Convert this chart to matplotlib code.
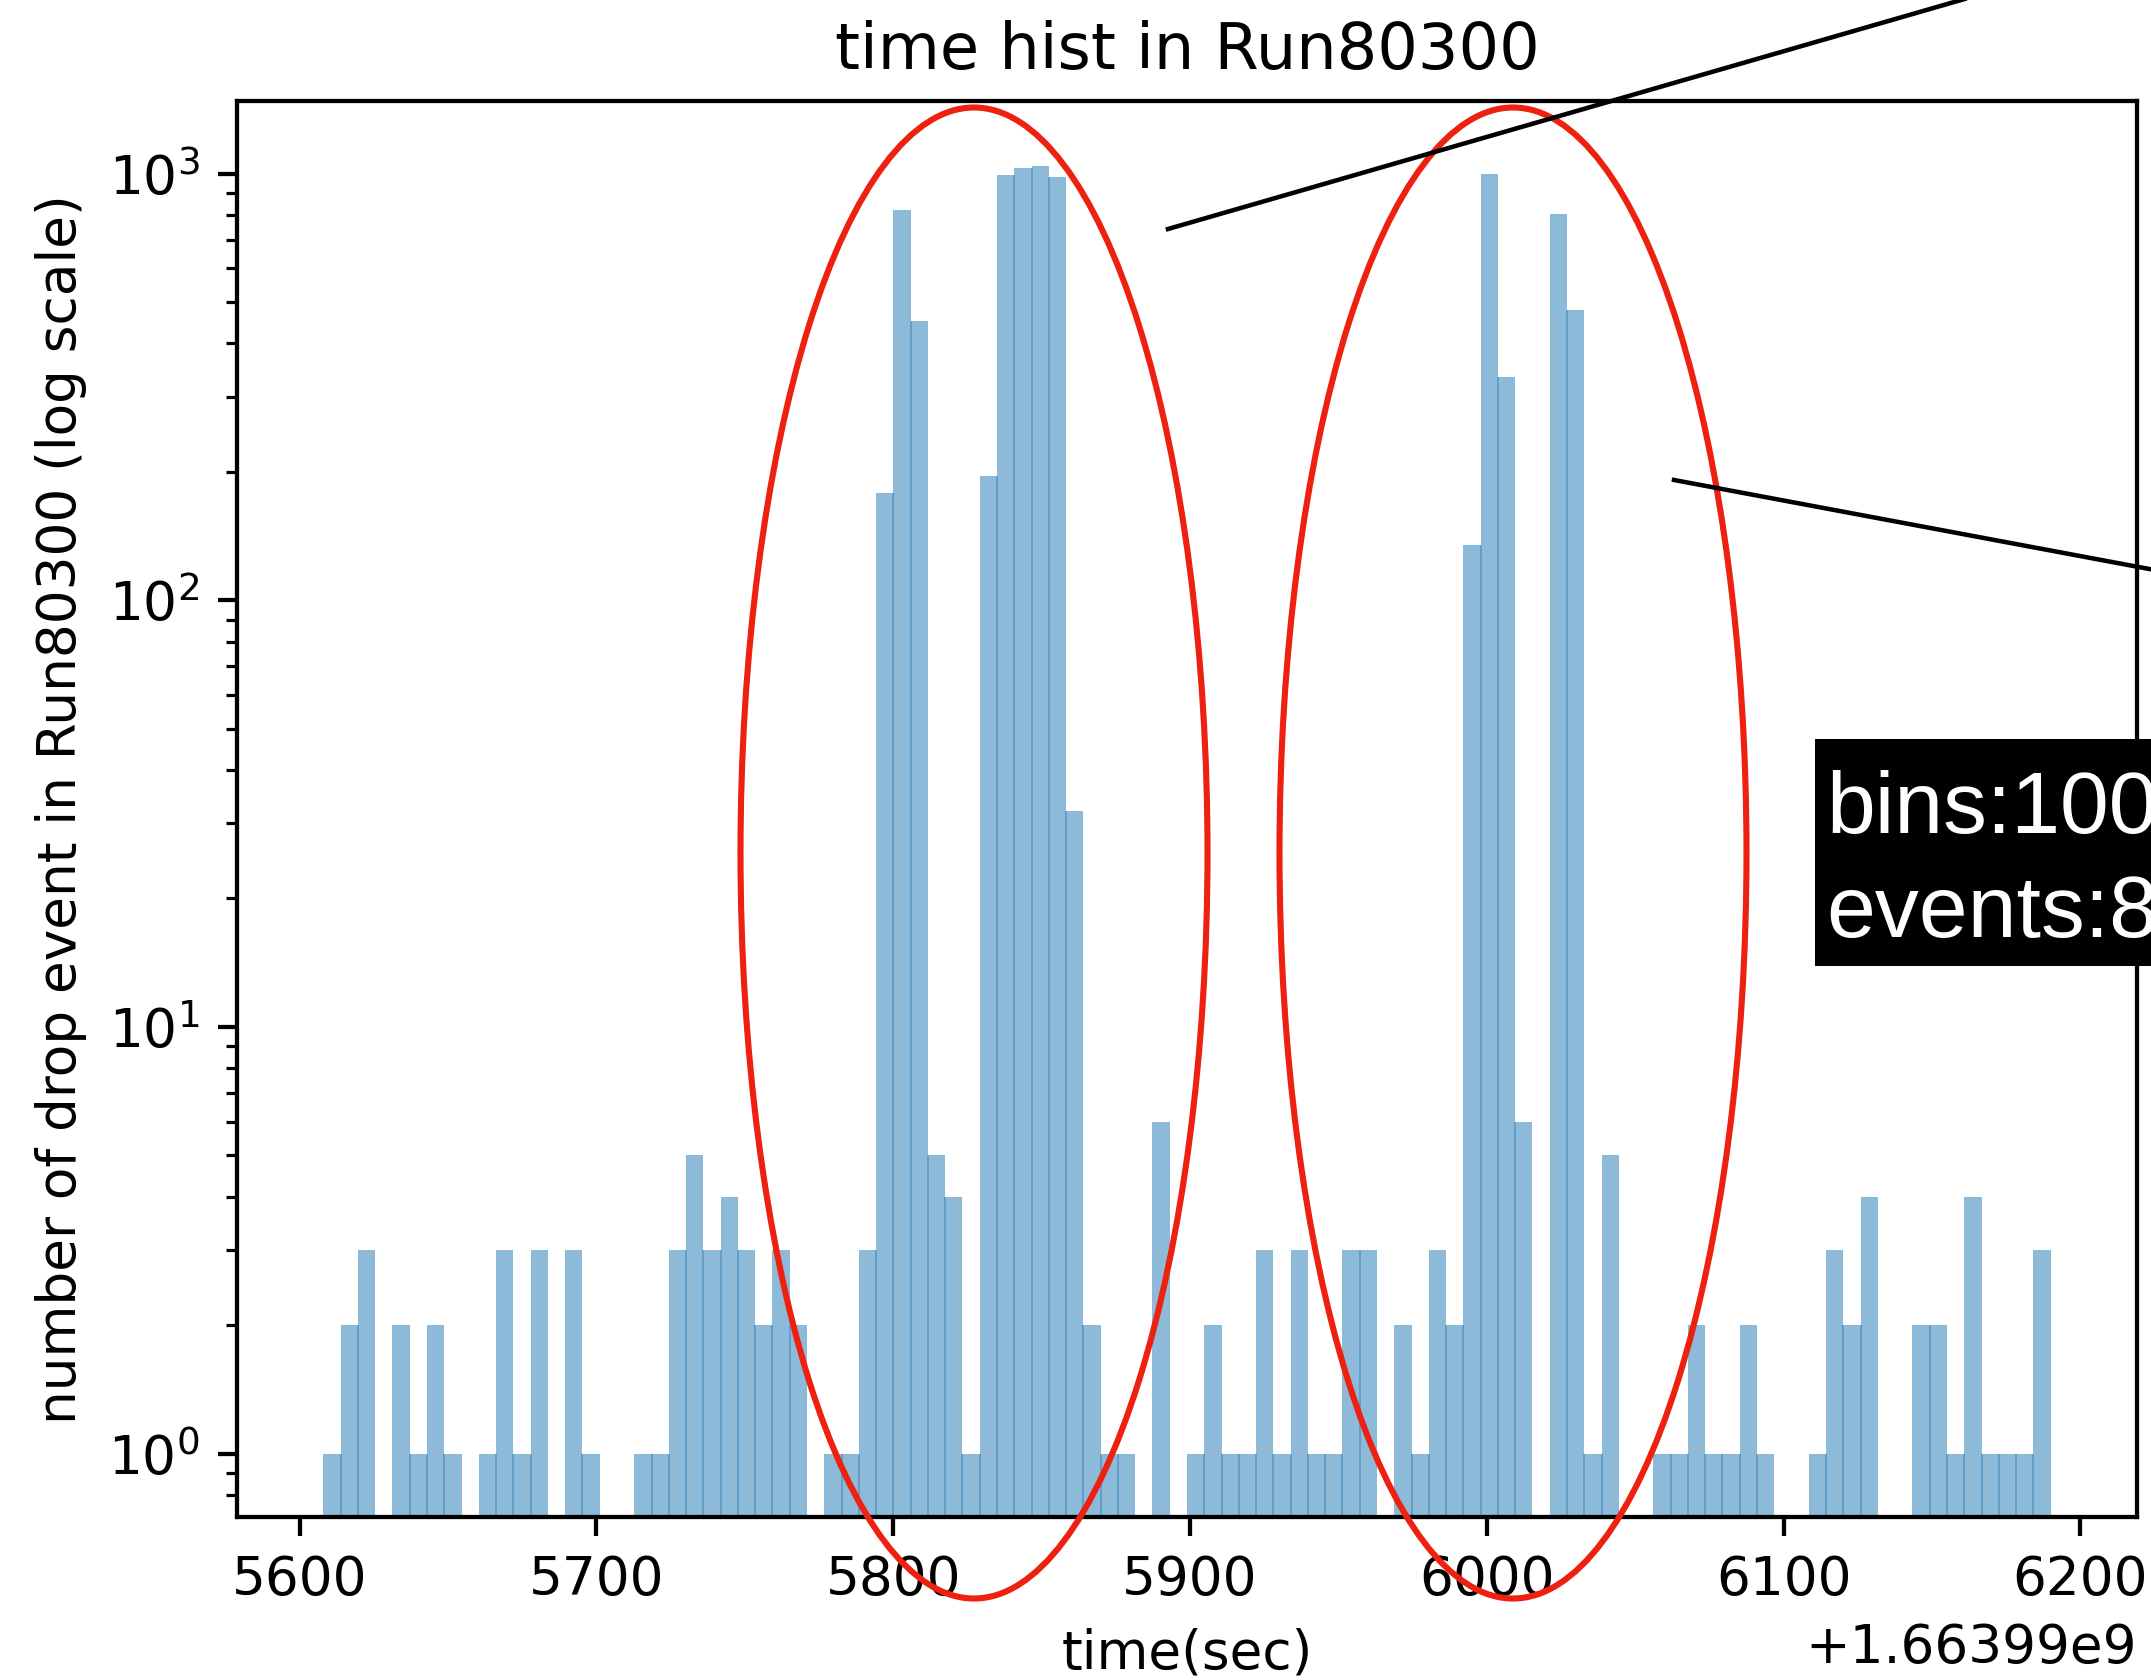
"""
Histogram of the drop-event times in Run80300 (100 bins, log scale),
with the red ellipses, black pointer lines and the black label box
that were drawn on top of it.
"""

import numpy as np
import matplotlib.pyplot as plt
from matplotlib.patches import Ellipse, Rectangle
from matplotlib.lines import Line2D

# Size of the picture in pixels and its resolution
W, H = 2151, 1680
DPI = 383

# Time axis: the bins start here (seconds, unix time) and each is BIN_WIDTH wide
T_OFFSET = 1.66399e9
T_FIRST = 5608.0
BIN_WIDTH = 5.82

# Number of drop events in each of the 100 bins, read left to right
counts = [1, 2, 3, 0, 2, 1, 2, 1, 0, 1,
          3, 1, 3, 0, 3, 1, 0, 0, 1, 1,
          3, 5, 3, 4, 3, 2, 3, 2, 0, 1,
          1, 3, 178, 824, 452, 5, 4, 1, 196, 995,
          1033, 1044, 984, 32, 2, 1, 1, 0, 6, 0,
          1, 2, 1, 1, 3, 1, 3, 1, 1, 3,
          3, 0, 2, 1, 3, 2, 135, 1000, 333, 6,
          0, 806, 480, 1, 5, 0, 0, 1, 1, 2,
          1, 1, 2, 1, 0, 0, 1, 3, 2, 4,
          0, 0, 2, 2, 1, 4, 1, 1, 1, 3]

n_bins = len(counts)
bin_edges = T_OFFSET + T_FIRST + BIN_WIDTH * np.arange(n_bins + 1)

RED = '#EE2010'


def fx(x):
    """pixel column -> figure fraction"""
    return x / W


def fy(y):
    """pixel row (from the top) -> figure fraction"""
    return 1 - y / H


fig = plt.figure(figsize=(W / DPI, H / DPI), dpi=DPI)
ax = fig.add_axes([fx(237), fy(1517), (2137 - 237) / W, (1517 - 101) / H])

ax.hist(bin_edges[:-1], bins=bin_edges, weights=counts, log=True, alpha=0.5)

# In the original the semi-transparent bars overlap a little, so a thin
# darker seam shows where two bars touch. Redraw those seams.
c = np.array(counts)
touching = (c[:-1] > 0) & (c[1:] > 0)
seam_x = bin_edges[1:-1][touching]
seam_top = np.minimum(c[:-1], c[1:])[touching]
ax.vlines(seam_x, 0.5, seam_top, color='#1f77b4', alpha=0.5, linewidth=0.3)

ax.set_ylim(0.71, 1480)

ax.set_title('time hist in Run80300')
ax.set_xlabel('time(sec)')
ax.set_ylabel('number of drop event in Run80300 (log scale)')

# Red ellipses around the two bursts (they go over the axis edge)
for cx in (974, 1513):
    ell = Ellipse((fx(cx), fy(853)), 467 / W, 1491 / H, transform=fig.transFigure,
                  fill=False, edgecolor=RED, linewidth=1.15, clip_on=False, zorder=10)
    fig.add_artist(ell)

# Black pointer lines
fig.add_artist(Line2D([fx(1168), fx(1975)], [fy(229), fy(-4)], transform=fig.transFigure,
                      color='black', linewidth=0.85, zorder=10))
fig.add_artist(Line2D([fx(1674), fx(2160)], [fy(480), fy(571)], transform=fig.transFigure,
                      color='black', linewidth=0.85, zorder=10))

# Black label box, cut off at the right edge of the picture
fig.add_artist(Rectangle((fx(1815), fy(966)), 600 / W, (966 - 739) / H,
                         transform=fig.transFigure, facecolor='black',
                         edgecolor='none', zorder=11))
fig.text(fx(1826), fy(833), 'bins:100', color='white', fontsize=16.5,
         family=['Liberation Sans', 'DejaVu Sans'], va='baseline', zorder=12)
fig.text(fx(1826), fy(937), 'events:8645', color='white', fontsize=16.5,
         family=['Liberation Sans', 'DejaVu Sans'], va='baseline', zorder=12)

fig.savefig('out.png', dpi=DPI)
